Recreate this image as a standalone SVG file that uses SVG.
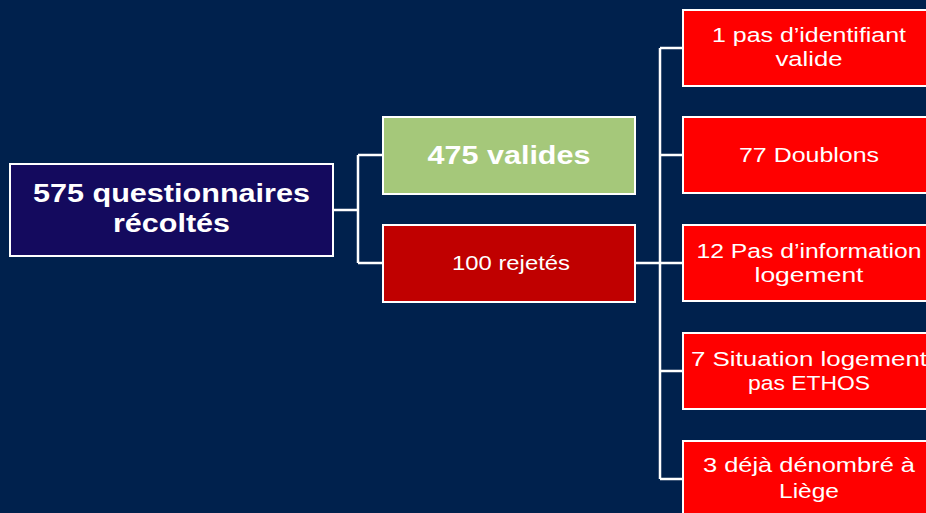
<svg xmlns="http://www.w3.org/2000/svg" width="926" height="513" viewBox="0 0 926 513">
<style>
.box{stroke:#FFFFFF;stroke-width:2}
.root{fill:#140A5E}
.ok{fill:#A5C87A}
.rej{fill:#C00000}
.leaf{fill:#FF0000}
.c{fill:none;stroke:#FFFFFF;stroke-width:2.5}
text{font-family:"Liberation Sans","DejaVu Sans",sans-serif;fill:#FFFFFF;text-anchor:middle}
.b{font-weight:bold;font-size:25.5px}
.r{font-size:20.5px}
</style>
<rect width="926" height="513" fill="#00214D"/>
<g id="connectors">
<path class="c" d="M333 210 H358 M358 155 V263 M358 155 H383 M358 263 H383"/>
<path class="c" d="M635 263 H660 M660 48 V479 M660 48 H683 M660 155 H683 M660 263 H683 M660 371 H683 M660 479 H683"/>
</g>
<g id="root">
<rect class="box root" x="10" y="164" width="323" height="92"/>
<text class="b" x="171.5" y="202" textLength="277" lengthAdjust="spacingAndGlyphs">575 questionnaires</text>
<text class="b" x="171.5" y="232" textLength="117" lengthAdjust="spacingAndGlyphs">récoltés</text>
</g>
<g id="valides">
<rect class="box ok" x="383" y="117" width="252" height="77"/>
<text class="b" x="509" y="164" textLength="163" lengthAdjust="spacingAndGlyphs">475 valides</text>
</g>
<g id="rejetes">
<rect class="box rej" x="383" y="225" width="252" height="77"/>
<text class="r" x="511" y="270" textLength="118" lengthAdjust="spacingAndGlyphs">100 rejetés</text>
</g>
<g id="identifiant">
<rect class="box leaf" x="683" y="10" width="251" height="76"/>
<text class="r" x="809" y="42" textLength="194" lengthAdjust="spacingAndGlyphs">1 pas d’identifiant</text>
<text class="r" x="809" y="66" textLength="67" lengthAdjust="spacingAndGlyphs">valide</text>
</g>
<g id="doublons">
<rect class="box leaf" x="683" y="117" width="251" height="76"/>
<text class="r" x="809" y="162" textLength="140" lengthAdjust="spacingAndGlyphs">77 Doublons</text>
</g>
<g id="information">
<rect class="box leaf" x="683" y="225" width="251" height="76"/>
<text class="r" x="809" y="258" textLength="225" lengthAdjust="spacingAndGlyphs">12 Pas d’information</text>
<text class="r" x="809" y="282" textLength="109" lengthAdjust="spacingAndGlyphs">logement</text>
</g>
<g id="ethos">
<rect class="box leaf" x="683" y="333" width="251" height="76"/>
<text class="r" x="809" y="366" textLength="236" lengthAdjust="spacingAndGlyphs">7 Situation logement</text>
<text class="r" x="809" y="390" textLength="122" lengthAdjust="spacingAndGlyphs">pas ETHOS</text>
</g>
<g id="liege">
<rect class="box leaf" x="683" y="441" width="251" height="76"/>
<text class="r" x="809" y="472" textLength="212" lengthAdjust="spacingAndGlyphs">3 déjà dénombré à</text>
<text class="r" x="809" y="498" textLength="60" lengthAdjust="spacingAndGlyphs">Liège</text>
</g>
</svg>
